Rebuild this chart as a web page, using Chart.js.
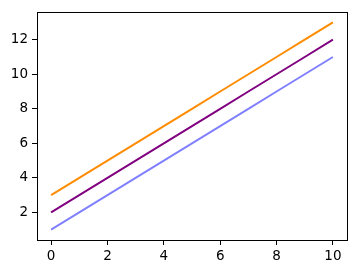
<!DOCTYPE html>
<html><head><meta charset="utf-8">
<script src="https://cdn.jsdelivr.net/npm/chart.js@4/dist/chart.umd.min.js"></script>
<style>html,body{margin:0;padding:0;background:#fff}#wrap{width:357px;height:274px}</style>
</head><body><div id="wrap"><canvas id="c" width="357" height="274"></canvas></div>
<script>
const xValues = [0,1,2,3,4,5,6,7,8,9,10];
const seriesLow = [1,2,3,4,5,6,7,8,9,10,11];
const seriesMid = [2,3,4,5,6,7,8,9,10,11,12];
const seriesHigh = [3,4,5,6,7,8,9,10,11,12,13];
const xTicks = [0,2,4,6,8,10];
const yTicks = [2,4,6,8,10,12];

const toPts = ys => xValues.map((x,i)=>({x:x,y:ys[i]}));
const frame = {id:'frame',afterDraw(ch){const a=ch.chartArea,c=ch.ctx;c.save();c.strokeStyle='#000';c.lineWidth=1;c.strokeRect(Math.round(a.left)+0.5,Math.round(a.top)+0.5,Math.round(a.right-a.left),Math.round(a.bottom-a.top));c.restore();}};
const font = {family:'DejaVu Sans',size:13.5};
new Chart(document.getElementById('c'),{
  type:'line',
  data:{datasets:[
    {data:toPts(seriesLow),borderColor:'#8080ff',borderWidth:2,pointRadius:0,fill:false},
    {data:toPts(seriesMid),borderColor:'#800080',borderWidth:2,pointRadius:0,fill:false},
    {data:toPts(seriesHigh),borderColor:'#ff8c00',borderWidth:2,pointRadius:0,fill:false}
  ]},
  options:{
    responsive:false,animation:false,
    layout:{padding:{top:9,right:10,left:0,bottom:0}},
    plugins:{legend:{display:false},tooltip:{enabled:false}},
    scales:{
      x:{type:'linear',min:-0.5,max:10.5,
        afterBuildTicks(s){s.ticks=xTicks.map(v=>({value:v}));},
        afterFit(s){s.height=34;},
        grid:{drawOnChartArea:false,drawTicks:true,tickLength:5,color:'#000'},
        border:{color:'#000',width:1},
        ticks:{color:'#000',font:font,padding:3,maxRotation:0}},
      y:{type:'linear',min:0.4,max:13.6,
        afterBuildTicks(s){s.ticks=yTicks.map(v=>({value:v}));},
        afterFit(s){s.width=37;},
        grid:{drawOnChartArea:false,drawTicks:true,tickLength:5,color:'#000'},
        border:{color:'#000',width:1},
        ticks:{color:'#000',font:font,padding:4}}
    }
  },
  plugins:[frame]
});
</script></body></html>
